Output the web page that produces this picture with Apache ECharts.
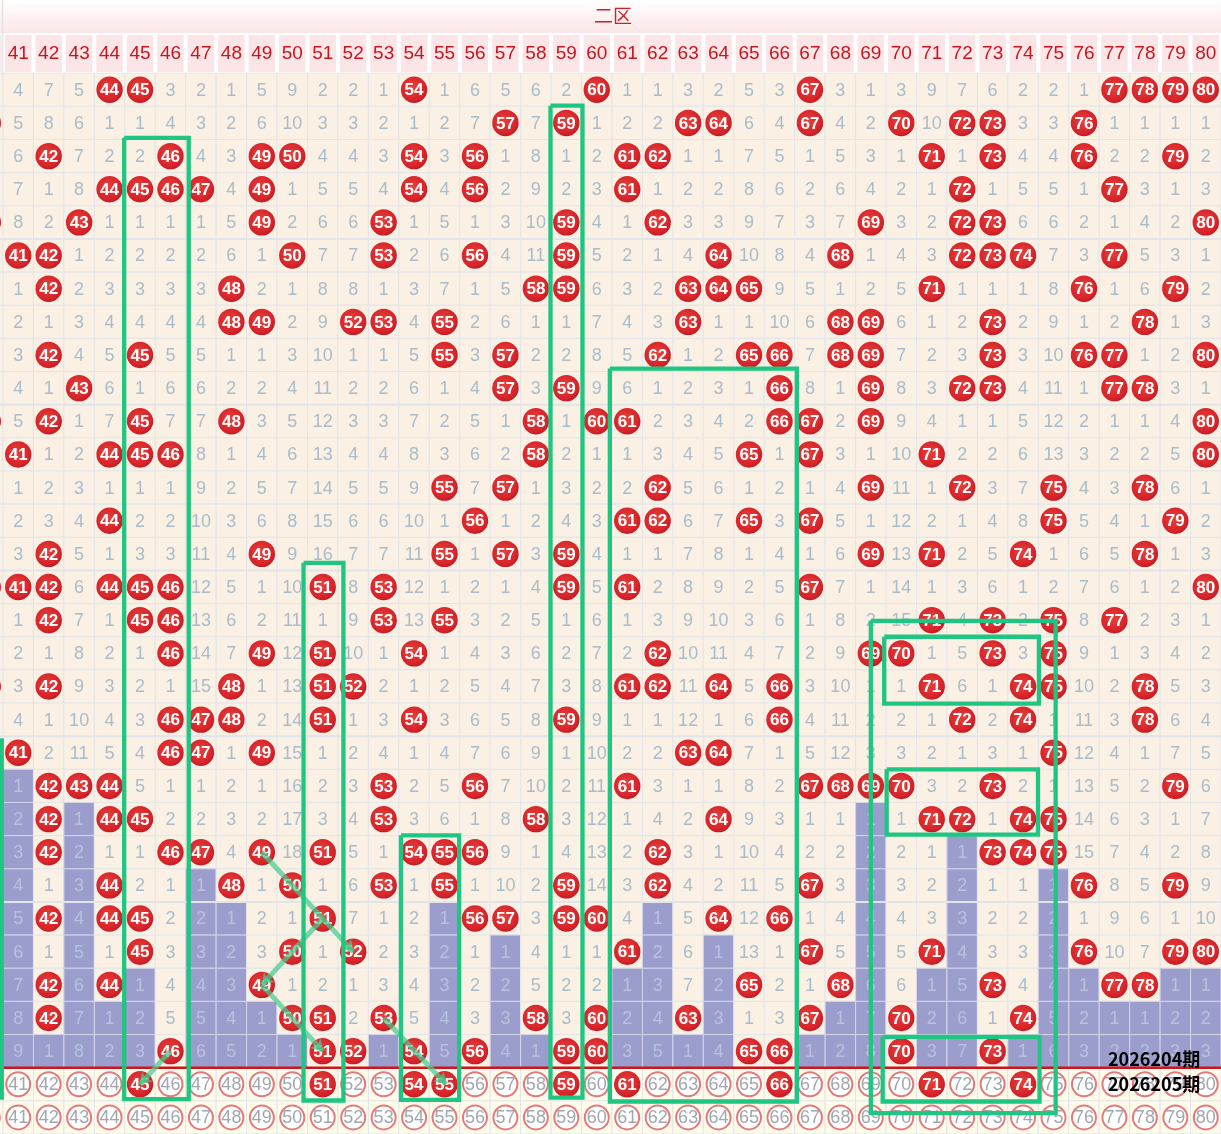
<!DOCTYPE html>
<html>
<head>
<meta charset="utf-8">
<script src="https://cdn.jsdelivr.net/npm/echarts@6/dist/echarts.min.js"></script>
<style>
    html, body {margin: 0; padding: 0; background: #fff;}
    #chart {width: 1221px; height: 1134px;}
</style>
</head>
<body>
<div id="chart"></div>
<script>
// 号码列（40 只露出左边一条）
var numbers = [40, 41, 42, 43, 44, 45, 46, 47, 48, 49, 50, 51, 52, 53, 54, 55, 56, 57, 58, 59, 60,
    61, 62, 63, 64, 65, 66, 67, 68, 69, 70, 71, 72, 73, 74, 75, 76, 77, 78, 79, 80];

// 第一行的遗漏值（0 = 开出）
var firstMiss = [null, 4, 7, 5, 0, 0, 3, 2, 1, 5, 9, 2, 2, 1, 0, 1, 6, 5, 6, 2, 0,
    1, 1, 3, 2, 5, 3, 0, 3, 1, 3, 9, 7, 6, 2, 2, 1, 0, 0, 0, 0];

// 每期开出的二区号码
var draws = [
    [44, 45, 54, 60, 67, 77, 78, 79, 80],
    [40, 57, 59, 63, 64, 67, 70, 72, 73, 76],
    [42, 46, 49, 50, 54, 56, 61, 62, 71, 73, 76, 79],
    [44, 45, 46, 47, 49, 54, 56, 61, 72, 77],
    [40, 43, 49, 53, 59, 62, 69, 72, 73, 80],
    [41, 42, 50, 53, 56, 59, 64, 68, 72, 73, 74, 77],
    [42, 48, 58, 59, 63, 64, 65, 71, 76, 79],
    [48, 49, 52, 53, 55, 63, 68, 69, 73, 78],
    [42, 45, 55, 57, 62, 65, 66, 68, 69, 73, 76, 77, 80],
    [43, 57, 59, 66, 69, 72, 73, 77, 78],
    [40, 42, 45, 48, 58, 60, 61, 66, 67, 69, 80],
    [41, 44, 45, 46, 58, 65, 67, 71, 80],
    [55, 57, 62, 69, 72, 75, 78],
    [44, 56, 61, 62, 65, 67, 75, 79],
    [42, 49, 55, 57, 59, 69, 71, 74, 78],
    [40, 41, 42, 44, 45, 46, 51, 53, 59, 61, 67, 80],
    [42, 45, 46, 53, 55, 71, 73, 75, 77],
    [46, 49, 51, 54, 62, 69, 70, 73, 75],
    [40, 42, 48, 51, 52, 61, 62, 64, 66, 71, 74, 75, 78],
    [46, 47, 48, 51, 54, 59, 66, 72, 74, 78],
    [41, 46, 47, 49, 63, 64, 75],
    [42, 43, 44, 53, 56, 61, 67, 68, 69, 70, 73, 79],
    [42, 44, 45, 53, 58, 64, 71, 72, 74, 75],
    [42, 46, 47, 49, 51, 54, 55, 56, 62, 73, 74, 75],
    [44, 48, 50, 53, 55, 59, 62, 67, 76, 79],
    [42, 44, 45, 51, 56, 57, 59, 60, 64, 66],
    [40, 45, 50, 52, 61, 67, 71, 76, 79, 80],
    [40, 42, 44, 49, 65, 68, 73, 77, 78],
    [40, 42, 50, 51, 53, 58, 60, 63, 67, 70, 74],
    [46, 51, 52, 54, 56, 59, 60, 65, 66, 70, 73]
];

// 预选行
var picks = [
    [45, 51, 54, 55, 59, 61, 66, 71, 74],
    []
];
var issueLabels = ['2026204期', '2026205期'];

// 手画的绿框 [x0, x1, y0, y1]（坐标单位）
var boxes = [
    [44.48, 46.6, 2.45, 31.45],
    [58.48, 59.53, 1.48, 31.4],
    [60.43, 66.57, 9.41, 31.52],
    [50.37, 51.68, 15.27, 31.49],
    [53.57, 55.48, 23.49, 31.47],
    [69.0, 75.07, 17.02, 31.87],
    [69.44, 74.52, 17.5, 19.52],
    [69.52, 74.49, 21.5, 23.47],
    [69.39, 74.54, 29.57, 31.52],
    [40.46, 40.46, 20.56, 31.47]
];
// 手画的箭头连线 [号码, 行]
var arrows = [
    [[49, 24], [52, 27]],
    [[51, 26], [49, 28]],
    [[49, 28], [51, 30]],
    [[46, 30], [45, 31]],
    [[53, 29], [55.05, 31]]
];

var chart = echarts.init(document.getElementById('chart'));

// 计算遗漏、遗漏柱
var lastHit = {};
numbers.forEach(function (n) { lastHit[n] = 0; });
draws.forEach(function (row, i) {
    row.forEach(function (n) { lastHit[n] = i + 1; });
});

var cellData = [];
numbers.forEach(function (n, j) {
    var miss = firstMiss[j];
    draws.forEach(function (row, i) {
        var hit = row.indexOf(n) >= 0;
        if (hit) {
            miss = 0;
        } else if (i > 0) {
            miss = miss === null ? null : miss + 1;
        }
        var type = hit ? 1 : (i + 1 > lastHit[n] ? 2 : 0);
        cellData.push([n, i + 1, hit ? n : miss, type]);
    });
    picks.forEach(function (p, k) {
        cellData.push([n, draws.length + 1 + k, n, p.indexOf(n) >= 0 ? 4 : 3]);
    });
});

var headerData = numbers.map(function (n) { return [n, 0]; });

var ballFill = new echarts.graphic.RadialGradient(0.45, 0.42, 0.6, [
    {offset: 0, color: '#e8403a'},
    {offset: 0.8, color: '#d6232a'},
    {offset: 1, color: '#bf1820'}
]);

function renderCell(params, api) {
    var c = api.value(0), r = api.value(1), v = api.value(2), t = api.value(3);
    var tl = api.coord([c - 0.5, r - 0.5]);
    var br = api.coord([c + 0.5, r + 0.5]);
    var ctr = api.coord([c, r]);
    var fill = '#faf0e4', stroke = '#e4e5e9';
    if (t === 2) {
        fill = '#9b9dcd';
        stroke = '#d3d5e8';
    } else if (t >= 3) {
        fill = '#fffbeb';
    }
    var children = [{
        type: 'rect',
        shape: {x: tl[0], y: tl[1], width: br[0] - tl[0], height: br[1] - tl[1]},
        style: {fill: fill, stroke: stroke, lineWidth: 1}
    }];
    if (t === 1 || t === 4) {
        children.push({
            type: 'circle',
            shape: {cx: ctr[0], cy: ctr[1], r: 13.2},
            style: {fill: ballFill}
        });
        children.push({
            type: 'text',
            style: {
                text: String(v), x: ctr[0], y: ctr[1] + 1, align: 'center', verticalAlign: 'middle',
                fill: '#fff', font: 'bold 17px "Liberation Sans", Arial'
            }
        });
    } else if (t === 3) {
        children.push({
            type: 'circle',
            shape: {cx: ctr[0], cy: ctr[1], r: 12},
            style: {fill: '#fff', stroke: '#e27a7a', lineWidth: 2}
        });
        children.push({
            type: 'text',
            style: {
                text: String(v), x: ctr[0], y: ctr[1] + 1, align: 'center', verticalAlign: 'middle',
                fill: '#a2a6ad', font: '18px "Liberation Sans", Arial'
            }
        });
    } else if (v !== null && !isNaN(v)) {
        children.push({
            type: 'text',
            style: {
                text: String(v), x: ctr[0], y: ctr[1] + 1, align: 'center', verticalAlign: 'middle',
                fill: t === 2 ? '#b7c3dd' : '#a9bccb', font: '18px "Liberation Sans", Arial'
            }
        });
    }
    return {type: 'group', children: children};
}

function renderHeader(params, api) {
    var c = api.value(0);
    var l = api.coord([c - 0.5, 1])[0];
    var rgt = api.coord([c + 0.5, 1])[0];
    return {
        type: 'group',
        children: [{
            type: 'rect',
            shape: {x: l + 2, y: 35, width: rgt - l - 4, height: 37},
            style: {fill: '#fbe5e7'}
        }, {
            type: 'text',
            style: {
                text: String(c), x: (l + rgt) / 2, y: 54, align: 'center', verticalAlign: 'middle',
                fill: '#c8161e', font: '19px "Liberation Sans", Arial'
            }
        }]
    };
}

function renderBox(params, api) {
    var a = api.coord([api.value(0), api.value(2)]);
    var b = api.coord([api.value(1), api.value(3)]);
    return {
        type: 'polyline',
        shape: {points: [[a[0], a[1]], [b[0], a[1]], [b[0], b[1]], [a[0], b[1]], [a[0], a[1]]]},
        style: {stroke: '#1fc681', lineWidth: 4.3, fill: null, lineJoin: 'miter'}
    };
}

function renderSplit(params, api) {
    var a = api.coord([api.value(0), api.value(2)]);
    var b = api.coord([api.value(1), api.value(2)]);
    return {
        type: 'line',
        shape: {x1: a[0], y1: a[1], x2: b[0], y2: b[1]},
        style: {stroke: api.value(3) ? '#d0141c' : '#e2e4ea', lineWidth: api.value(3) ? 2.6 : 2}
    };
}

var splitData = [];
for (var k = 5; k < draws.length; k += 5) {
    splitData.push([39.5, 80.5, k + 0.5, 0]);
}
splitData.push([39.5, 80.5, draws.length + 0.5, 1]);

option = {
    animation: false,
    backgroundColor: '#fff',
    grid: {left: 3, top: 73.2, width: 1219, height: 1064},
    xAxis: {type: 'value', min: 40.5, max: 80.5, show: false},
    yAxis: {type: 'value', min: 0.5, max: 32.5, inverse: true, show: false},
    graphic: [{
        type: 'rect', z: 0,
        shape: {x: 0, y: 0, width: 1221, height: 33},
        style: {
            fill: new echarts.graphic.LinearGradient(0, 0, 0, 1, [
                {offset: 0, color: '#ffffff'},
                {offset: 1, color: '#fce6e7'}
            ])
        }
    }, {
        type: 'line', z: 1,
        shape: {x1: 2.5, y1: 0, x2: 2.5, y2: 73},
        style: {stroke: '#e3e3e6', lineWidth: 1.5}
    }, {
        type: 'text', z: 1,
        style: {
            text: '二区', x: 613, y: 16, align: 'center', verticalAlign: 'middle',
            fill: '#d01f26', font: '19px "Noto Sans CJK SC"'
        }
    }, {
        type: 'text', z: 100,
        style: {
            text: issueLabels[0], x: 1108, y: 1059, verticalAlign: 'middle',
            fill: '#000', font: 'bold 18px "Noto Sans CJK SC"'
        }
    }, {
        type: 'text', z: 100,
        style: {
            text: issueLabels[1], x: 1108, y: 1084, verticalAlign: 'middle',
            fill: '#000', font: 'bold 18px "Noto Sans CJK SC"'
        }
    }],
    series: [{
        type: 'custom',
        name: 'header',
        clip: false,
        z: 2,
        renderItem: renderHeader,
        data: headerData
    }, {
        type: 'custom',
        name: 'cells',
        clip: false,
        z: 2,
        renderItem: renderCell,
        data: cellData
    }, {
        type: 'custom',
        name: 'split',
        clip: false,
        z: 3,
        renderItem: renderSplit,
        data: splitData
    }, {
        type: 'lines',
        coordinateSystem: 'cartesian2d',
        z: 5,
        symbol: ['none', 'arrow'],
        symbolSize: 11,
        lineStyle: {color: '#45cc8f', width: 5, opacity: 0.72},
        data: arrows.map(function (a) { return {coords: a}; })
    }, {
        type: 'custom',
        name: 'boxes',
        clip: false,
        z: 6,
        renderItem: renderBox,
        data: boxes
    }]
};
chart.setOption(option);
</script>
</body>
</html>
